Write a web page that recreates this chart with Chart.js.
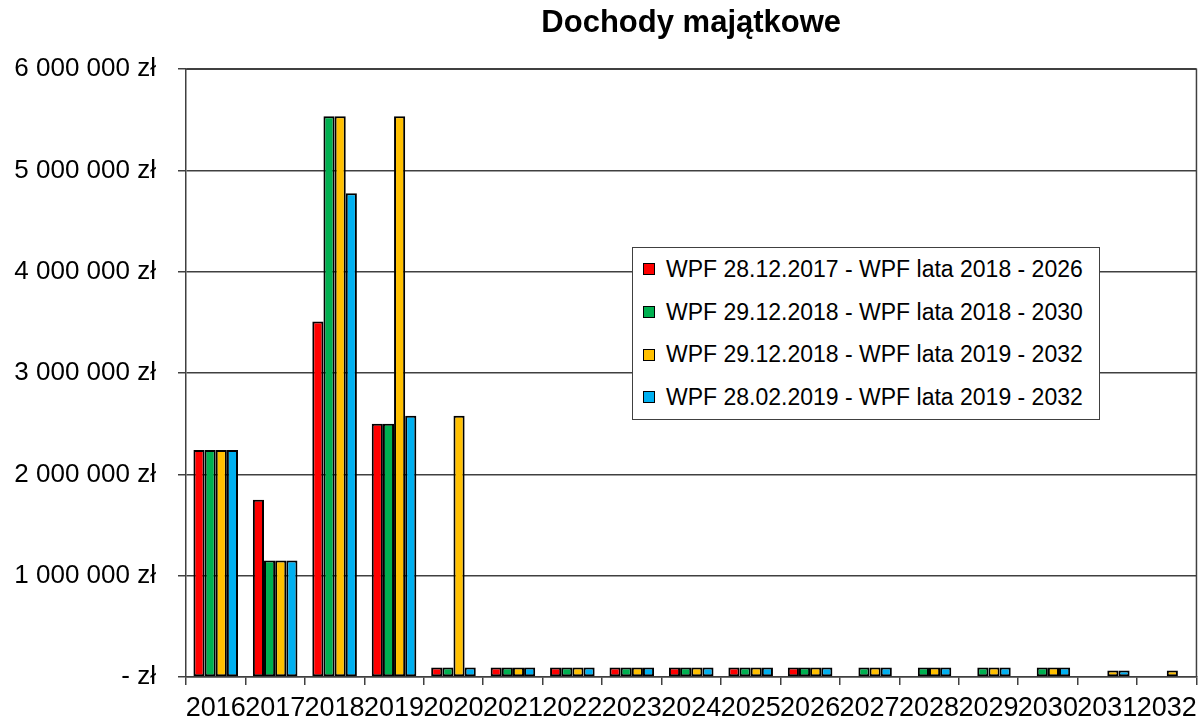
<!DOCTYPE html>
<html lang="pl">
<head>
<meta charset="utf-8">
<title>Dochody majątkowe</title>
<script src="https://cdn.jsdelivr.net/npm/chart.js@4.4.1/dist/chart.umd.min.js"></script>
<style>
  body { margin: 0; background: #fff; }
  #wrap { position: relative; width: 1204px; height: 720px; }
  #legend {
    position: absolute; left: 632px; top: 247px; width: 468px; height: 173px;
    box-sizing: border-box; border: 1.5px solid #404040; background: #fff;
    font-family: 'Liberation Sans', Arial, sans-serif; font-size: 23px; color: #000;
  }
  .row { display: flex; align-items: center; height: 42.7px; }
  .mark { width: 10px; height: 10px; border: 1.5px solid #000; margin: 0 11px 0 10px; }
</style>
</head>
<body>
<div id="wrap">
  <canvas id="chart" width="1204" height="720"></canvas>
  <div id="legend"></div>
</div>
<script>
'use strict';

// DATA
const years = ['2016', '2017', '2018', '2019', '2020', '2021', '2022', '2023', '2024',
  '2025', '2026', '2027', '2028', '2029', '2030', '2031', '2032'];

const seriesNames = [
  'WPF 28.12.2017 - WPF lata 2018 - 2026',
  'WPF 29.12.2018 - WPF lata 2018 - 2030',
  'WPF 29.12.2018 - WPF lata 2019 - 2032',
  'WPF 28.02.2019 - WPF lata 2019 - 2032'
];

const wpf2017 = [2240000, 1750000, 3510000, 2500000, 95000, 95000, 95000, 95000, 95000,
  95000, 95000, null, null, null, null, null, null];
const wpf2018a = [2240000, 1150000, 5535000, 2500000, 95000, 95000, 95000, 95000, 95000,
  95000, 95000, 95000, 95000, 95000, 95000, null, null];
const wpf2018b = [2240000, 1150000, 5535000, 5535000, 2580000, 95000, 95000, 95000, 95000,
  95000, 95000, 95000, 95000, 95000, 95000, 65000, 65000];
const wpf2019 = [2240000, 1150000, 4775000, 2580000, 95000, 95000, 95000, 95000, 95000,
  95000, 95000, 95000, 95000, 95000, 95000, 65000, null];

const yTicks = [0, 1000000, 2000000, 3000000, 4000000, 5000000, 6000000];

const colors = ['#ff0000', '#00b050', '#ffc000', '#00b0f0'];
const FONT = "'Liberation Sans', Arial, sans-serif";
const LINE = '#404040';

// formats 6000000 -> "6 000 000 zł", 0 -> "- zł"
function formatZl(v) {
  if (v === 0) return '- zł';
  return String(v).replace(/\B(?=(\d{3})+(?!\d))/g, ' ') + ' zł';
}

// draws the right and top edges of the plot area
const plotFrame = {
  id: 'plotFrame',
  beforeDatasetsDraw(chart) {
    const { ctx, chartArea } = chart;
    ctx.save();
    ctx.strokeStyle = LINE;
    ctx.lineWidth = 1.5;
    ctx.beginPath();
    ctx.moveTo(chartArea.left, chartArea.top);
    ctx.lineTo(chartArea.right, chartArea.top);
    ctx.lineTo(chartArea.right, chartArea.bottom);
    ctx.stroke();
    ctx.restore();
  }
};

const allSeries = [wpf2017, wpf2018a, wpf2018b, wpf2019];
let datasets = [];
for (let i = 0; i < allSeries.length; i++) {
  datasets.push({
    label: seriesNames[i],
    data: allSeries[i],
    backgroundColor: colors[i],
    borderColor: '#000',
    borderWidth: 2,
    borderSkipped: false,
    barPercentage: 1,
    categoryPercentage: 0.75
  });
}

new Chart(document.getElementById('chart'), {
  type: 'bar',
  data: { labels: years, datasets: datasets },
  plugins: [plotFrame],
  options: {
    responsive: false,
    animation: false,
    layout: { padding: { left: 0, right: 5, top: 0, bottom: 0 } },
    plugins: {
      legend: { display: false },
      tooltip: { enabled: false },
      title: {
        display: true,
        text: 'Dochody majątkowe',
        fullSize: false,
        color: '#000',
        font: { family: FONT, size: 31, weight: 'bold' },
        padding: { top: 5, bottom: 27 }
      }
    },
    scales: {
      x: {
        afterFit(scale) { scale.height = 43; },
        grid: { drawOnChartArea: false, drawTicks: true, tickLength: 8, color: LINE, lineWidth: 1.5 },
        border: { display: true, color: LINE, width: 1.5 },
        ticks: {
          color: '#000', font: { family: FONT, size: 27 },
          autoSkip: false, maxRotation: 0, minRotation: 0, padding: 7
        }
      },
      y: {
        min: 0,
        max: 6000000,
        afterFit(scale) { scale.width = 186; },
        afterBuildTicks(scale) { scale.ticks = yTicks.map(v => ({ value: v })); },
        grid: { color: LINE, lineWidth: 1.5, tickLength: 8 },
        border: { display: true, color: LINE, width: 1.5 },
        ticks: {
          color: '#000', font: { family: FONT, size: 26 }, padding: 22,
          callback: (v) => formatZl(v)
        }
      }
    }
  }
});

// LEGEND
let legend = document.getElementById('legend');
for (let i = 0; i < seriesNames.length; i++) {
  let row = document.createElement('div');
  row.className = 'row';
  let mark = document.createElement('span');
  mark.className = 'mark';
  mark.style.background = colors[i];
  let text = document.createElement('span');
  text.textContent = seriesNames[i];
  row.appendChild(mark);
  row.appendChild(text);
  legend.appendChild(row);
}
</script>
</body>
</html>
